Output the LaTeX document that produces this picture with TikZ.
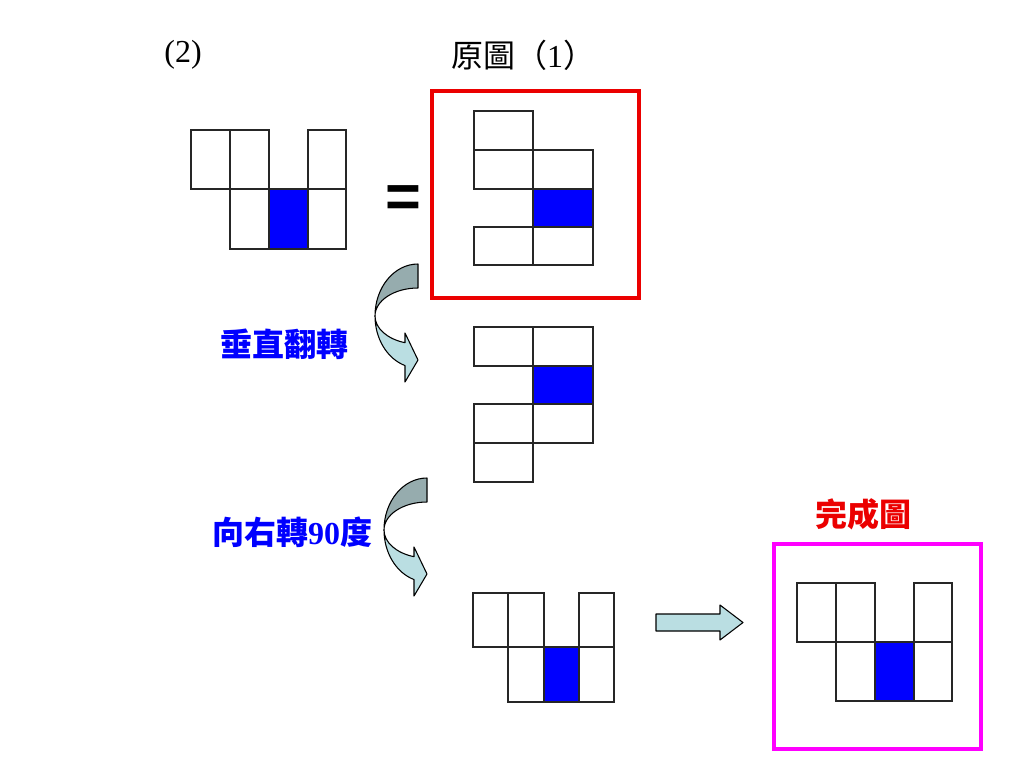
\documentclass[tikz,border=0pt]{standalone}
\usepackage{fontspec}
\setmainfont{Liberation Serif}
\newfontfamily\cjk{Noto Sans CJK TC}
\newfontfamily\eqfont{Liberation Sans}
\definecolor{arrdark}{RGB}{150,172,174}
\definecolor{arrlight}{RGB}{186,222,226}
\definecolor{frred}{RGB}{235,0,0}
\definecolor{frmag}{RGB}{255,0,255}
\definecolor{cellblue}{RGB}{0,0,255}
\begin{document}
\begin{tikzpicture}[x=0.75pt,y=-0.75pt,
  cellbox/.style={draw=black!85,line width=1.1pt,fill=white},
  bluecell/.style={draw=black!85,line width=1.1pt,fill=cellblue},
  frame/.style={line width=2.4pt},
  titletext/.style={font=\fontsize{24}{28}\selectfont,inner sep=0pt},
  labeltext/.style={font=\fontsize{24}{28}\selectfont\bfseries,inner sep=0pt},
  arrout/.style={draw=black,line width=0.8pt,line join=round},
  curvarr/.pic={
    \path[arrout,fill=arrdark] (0,-52) arc[start angle=270,end angle=180,x radius=43,y radius=52]
      arc[start angle=180,end angle=270,x radius=43,y radius=28] -- cycle;
    \path[arrout,fill=arrlight] (-43,0) arc[start angle=180,end angle=107.6,x radius=43,y radius=52]
      -- (-13,66) -- (0,44) -- (-13,17) -- (-13,26.7)
      arc[start angle=107.6,end angle=180,x radius=43,y radius=28] -- cycle;
  }]
\useasboundingbox[fill=white] (0,0) rectangle (1024,768);

% titles
\node[titletext] (t2) at (183,55) {(2)};
\node[titletext] (t1) at (523,55) {{\cjk 原圖（}1{\cjk ）}};

% grid A (top-left)
\foreach \xa/\ya/\xb/\yb in {191/130/230/189, 230/130/269/189, 308/130/346/189,
    230/189/269/249, 308/189/346/249}
  \path[cellbox] (\xa,\ya) rectangle (\xb,\yb);
\path[bluecell] (269,189) rectangle (308,249);

% equals sign
\node[inner sep=0pt,font=\eqfont\fontsize{46}{50}\selectfont\bfseries] (eq) at (403,202) {=};

% red frame and grid B
\draw[frame,frred] (432,91) rectangle (639,298);
\foreach \xa/\ya/\xb/\yb in {474/111/533/150, 474/150/533/189, 533/150/593/189,
    474/227/533/265, 533/227/593/265}
  \path[cellbox] (\xa,\ya) rectangle (\xb,\yb);
\path[bluecell] (533,189) rectangle (593,227);

% curved arrow 1 and label
\pic at (418,316) {curvarr};
\node[labeltext,text=cellblue] (lab1) at (284,344) {\cjk 垂直翻轉};

% grid C
\foreach \xa/\ya/\xb/\yb in {474/327/533/366, 533/327/593/366,
    474/404/533/443, 533/404/593/443, 474/443/533/482}
  \path[cellbox] (\xa,\ya) rectangle (\xb,\yb);
\path[bluecell] (533,366) rectangle (593,404);

% curved arrow 2 and label
\pic at (427,530) {curvarr};
\node[labeltext,text=cellblue] (lab2) at (292,532) {{\cjk 向右轉}90{\cjk 度}};

% grid D
\foreach \xa/\ya/\xb/\yb in {473/593/508/647, 508/593/544/647, 579/593/614/647,
    508/647/544/702, 579/647/614/702}
  \path[cellbox] (\xa,\ya) rectangle (\xb,\yb);
\path[bluecell] (544,647) rectangle (579,702);

% straight arrow
\path[arrout,fill=arrlight] (656,614) -- (720,614) -- (720,605) -- (743,622.5)
  -- (720,640) -- (720,631) -- (656,631) -- cycle;

% result
\node[labeltext,text=frred] (done) at (863,514) {\cjk 完成圖};
\draw[frame,frmag] (774,544) rectangle (981,749);
\foreach \xa/\ya/\xb/\yb in {797/583/836/642, 836/583/875/642, 914/583/952/642,
    836/642/875/701, 914/642/952/701}
  \path[cellbox] (\xa,\ya) rectangle (\xb,\yb);
\path[bluecell] (875,642) rectangle (914,701);
\end{tikzpicture}
\end{document}
